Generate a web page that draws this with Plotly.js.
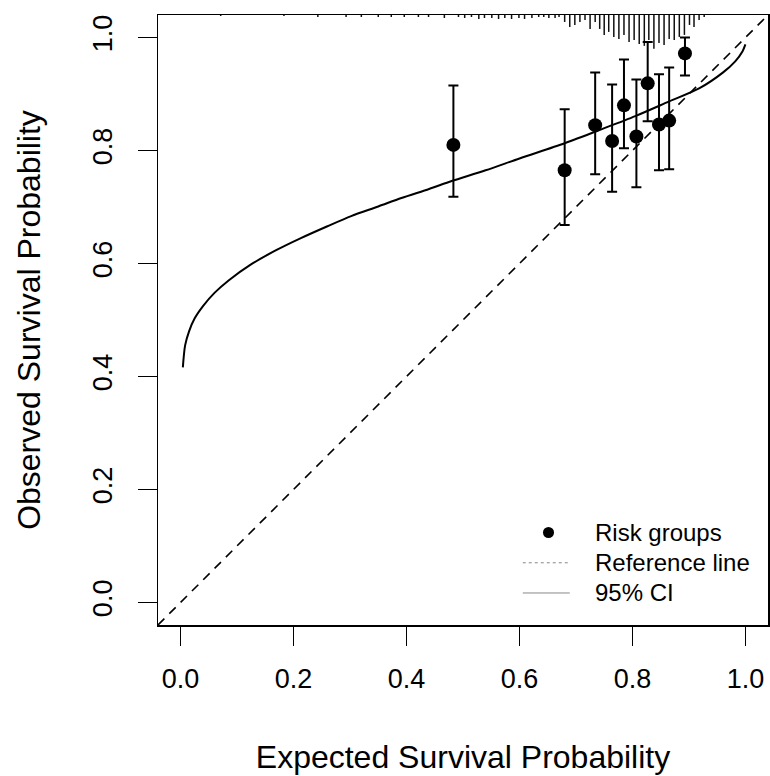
<!DOCTYPE html>
<html>
<head>
<meta charset="utf-8">
<script src="https://cdn.plot.ly/plotly-3.0.1.min.js"></script>
<style>html,body{margin:0;padding:0;background:#fff;}#chart{width:770px;height:776px;}</style>
</head>
<body>
<div id="chart"></div>
<script>
// Risk groups: expected (x) vs observed (y) with 95% CI bounds
var groupExpected = [0.483, 0.680, 0.734, 0.764, 0.785, 0.807, 0.827, 0.847, 0.865, 0.893];
var groupObserved = [0.810, 0.765, 0.845, 0.817, 0.880, 0.825, 0.919, 0.846, 0.853, 0.972];
var groupUpper    = [0.915, 0.873, 0.938, 0.917, 0.961, 0.926, 0.992, 0.935, 0.947, 1.000];
var groupLower    = [0.718, 0.668, 0.758, 0.727, 0.804, 0.735, 0.852, 0.765, 0.767, 0.933];

// Smoothed calibration curve
var curveX = [0.004, 0.008, 0.015, 0.025, 0.040, 0.060, 0.085, 0.124, 0.170, 0.213, 0.260, 0.302, 0.350, 0.391, 0.440, 0.480, 0.540, 0.600, 0.680, 0.746, 0.805, 0.865, 0.918, 0.960, 0.982, 0.995, 1.000];
var curveY = [0.416, 0.455, 0.480, 0.503, 0.525, 0.548, 0.570, 0.598, 0.624, 0.645, 0.666, 0.684, 0.701, 0.716, 0.732, 0.746, 0.765, 0.786, 0.813, 0.838, 0.861, 0.887, 0.910, 0.938, 0.958, 0.976, 0.988];

// Distribution of predicted values (spike histogram at top)
var spikeX = [0.071, 0.183, 0.243, 0.293, 0.320, 0.350, 0.373, 0.396, 0.421, 0.439, 0.467,
              0.492, 0.503, 0.515, 0.528, 0.538, 0.551, 0.563, 0.574, 0.586, 0.599, 0.609, 0.622,
              0.634, 0.643, 0.652, 0.663, 0.670, 0.680, 0.689, 0.698, 0.707, 0.716, 0.725, 0.734,
              0.742, 0.750, 0.758, 0.767, 0.776, 0.785, 0.794, 0.803, 0.812, 0.821, 0.829, 0.838,
              0.847, 0.856, 0.865, 0.874, 0.883, 0.892, 0.901, 0.909, 0.918, 0.927];
var spikeFreq = [1, 1, 2, 2, 2, 2, 2, 2, 2, 2, 3,
                 2, 3, 2, 4, 3, 3, 4, 3, 4, 3, 4, 3,
                 2, 2, 3, 3, 2, 7, 12, 10, 7, 5, 14, 7,
                 14, 20, 17, 22, 24, 20, 27, 25, 29, 31, 25, 34,
                 28, 30, 24, 25, 22, 20, 10, 12, 5, 2];

var xTicks = [0, 0.2, 0.4, 0.6, 0.8, 1.0];
var xTickText = ["0.0", "0.2", "0.4", "0.6", "0.8", "1.0"];
var yTicks = [0, 0.2, 0.4, 0.6, 0.8, 1.0];
var yTickText = ["0.0", "0.2", "0.4", "0.6", "0.8", "1.0"];

var axisRange = [-0.04, 1.04];
var spikeScale = 1 / 567;

var sx = [], sy = [];
for (var i = 0; i < spikeX.length; i++) {
  sx.push(spikeX[i], spikeX[i], null);
  sy.push(axisRange[1], axisRange[1] - spikeFreq[i] * spikeScale, null);
}

var errPlus = groupUpper.map(function (u, i) { return u - groupObserved[i]; });
var errMinus = groupLower.map(function (l, i) { return groupObserved[i] - l; });

var FONT = "Liberation Sans, Arial, sans-serif";

var traces = [
  {x: sx, y: sy, mode: 'lines', line: {color: '#111', width: 1.5}, showlegend: false, hoverinfo: 'skip'},
  {x: axisRange, y: axisRange, mode: 'lines', line: {color: '#000', width: 1.6, dash: '9px,7px'}, showlegend: false},
  {x: curveX, y: curveY, mode: 'lines', line: {color: '#000', width: 2, shape: 'spline', smoothing: 0.8}, showlegend: false},
  {x: groupExpected, y: groupObserved, mode: 'markers',
   marker: {color: '#000', size: 14, symbol: 'circle'},
   error_y: {type: 'data', symmetric: false, array: errPlus, arrayminus: errMinus, color: '#000', thickness: 2, width: 5},
   showlegend: false}
];

var layout = {
  width: 770, height: 776,
  margin: {l: 158, r: 2, t: 15, b: 151},
  paper_bgcolor: '#fff', plot_bgcolor: '#fff',
  font: {family: FONT, color: '#000'},
  showlegend: false,
  xaxis: {
    range: axisRange, showgrid: false, zeroline: false,
    showline: true, mirror: true, linecolor: '#000', linewidth: 1.5,
    ticks: 'outside', ticklen: 19, tickwidth: 1.5, tickcolor: '#000',
    tickvals: xTicks, ticktext: xTickText, tickfont: {size: 27, family: FONT},
    ticklabelstandoff: 10,
    title: {text: 'Expected Survival Probability', font: {size: 32, family: FONT}, standoff: 52}
  },
  yaxis: {
    range: axisRange, showgrid: false, zeroline: false,
    showline: true, mirror: true, linecolor: '#000', linewidth: 1.5,
    ticks: 'outside', ticklen: 19, tickwidth: 1.5, tickcolor: '#000',
    tickvals: yTicks, ticktext: yTickText, tickfont: {size: 27, family: FONT},
    tickangle: -90, ticklabelstandoff: 15,
    title: {text: 'Observed Survival Probability', font: {size: 32, family: FONT}, standoff: 37}
  },
  shapes: [
    {type: 'circle', xref: 'paper', yref: 'paper', x0: 0.6311, x1: 0.6492, y0: 0.1426, y1: 0.1607, fillcolor: '#000', line: {width: 0}},
    {type: 'line', xref: 'paper', yref: 'paper', x0: 0.598, x1: 0.675, y0: 0.102, y1: 0.102, line: {color: '#888', width: 1, dash: 'dot'}},
    {type: 'line', xref: 'paper', yref: 'paper', x0: 0.598, x1: 0.675, y0: 0.0525, y1: 0.0525, line: {color: '#888', width: 1}}
  ],
  annotations: [
    {xref: 'paper', yref: 'paper', x: 0.713, y: 0.151, xanchor: 'left', yanchor: 'middle', text: 'Risk groups', showarrow: false, font: {size: 24, family: FONT}},
    {xref: 'paper', yref: 'paper', x: 0.713, y: 0.102, xanchor: 'left', yanchor: 'middle', text: 'Reference line', showarrow: false, font: {size: 24, family: FONT}},
    {xref: 'paper', yref: 'paper', x: 0.713, y: 0.0535, xanchor: 'left', yanchor: 'middle', text: '95% CI', showarrow: false, font: {size: 24, family: FONT}}
  ]
};

Plotly.newPlot('chart', traces, layout, {displayModeBar: false, staticPlot: true});
</script>
</body>
</html>
